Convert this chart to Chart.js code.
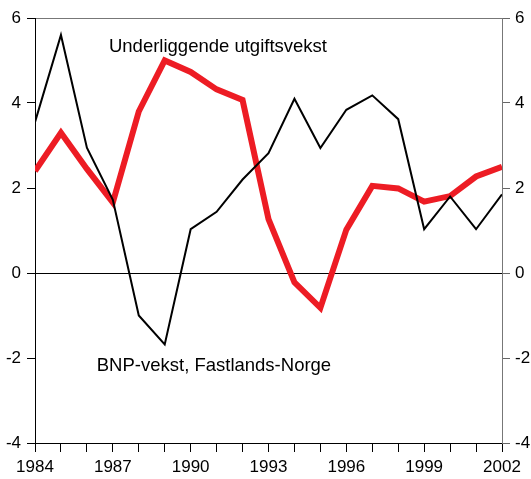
<!DOCTYPE html>
<html>
<head>
<meta charset="utf-8">
<script src="https://cdn.jsdelivr.net/npm/chart.js@4/dist/chart.umd.min.js"></script>
<style>
  html, body { margin: 0; padding: 0; background: #fff; }
  #wrap { width: 531px; height: 479px; }
</style>
</head>
<body>
<div id="wrap"><canvas id="chart" width="531" height="479"></canvas></div>
<script>
// --- data ---
const years = [1984, 1985, 1986, 1987, 1988, 1989, 1990, 1991, 1992, 1993, 1994, 1995, 1996, 1997, 1998, 1999, 2000, 2001, 2002];
const bnpVekst = [3.55, 5.6, 2.95, 1.72, -1.0, -1.68, 1.03, 1.44, 2.2, 2.82, 4.1, 2.94, 3.84, 4.18, 3.62, 1.03, 1.8, 1.03, 1.85];
const utgiftsvekst = [2.4, 3.3, 2.45, 1.66, 3.8, 5.0, 4.73, 4.32, 4.07, 1.27, -0.22, -0.82, 1.02, 2.05, 1.99, 1.68, 1.81, 2.27, 2.5];
const yTicks = [-4, -2, 0, 2, 4, 6];
const xLabelYears = [1984, 1987, 1990, 1993, 1996, 1999, 2002];

const seriesNames = ['BNP-vekst, Fastlands-Norge', 'Underliggende utgiftsvekst'];
const FONT = '"Liberation Sans", Arial, sans-serif';

// text labels placed inside the plot
const annotations = {
    id: 'annotations',
    afterDatasetsDraw(chart) {
        const ctx = chart.ctx;
        const xs = chart.scales.x, ys = chart.scales.y;
        ctx.save();
        ctx.fillStyle = '#000';
        ctx.font = '18.5px ' + FONT;
        ctx.textBaseline = 'alphabetic';
        ctx.textAlign = 'left';
        ctx.fillText(seriesNames[1], xs.getPixelForValue(1986.85), ys.getPixelForValue(5.2));
        ctx.fillText(seriesNames[0], xs.getPixelForValue(1986.38), ys.getPixelForValue(-2.3));
        ctx.restore();
    }
};

function fixWidth(w) { return scale => { scale.width = w; }; }
function fixHeight(h) { return scale => { scale.height = h; }; }

new Chart(document.getElementById('chart'), {
    type: 'line',
    data: {
        datasets: [
            {
                label: seriesNames[0],
                data: years.map((y, i) => ({ x: y, y: bnpVekst[i] })),
                borderColor: '#000',
                borderWidth: 2,
                pointRadius: 0,
                tension: 0,
                clip: 0
            },
            {
                label: seriesNames[1],
                data: years.map((y, i) => ({ x: y, y: utgiftsvekst[i] })),
                borderColor: '#ed1c24',
                borderWidth: 6,
                pointRadius: 0,
                tension: 0,
                clip: 0
            }
        ]
    },
    options: {
        responsive: false,
        animation: false,
        layout: { padding: { top: 18, left: 0, right: 0, bottom: 0 } },
        plugins: { legend: { display: false }, tooltip: { enabled: false } },
        scales: {
            x: {
                type: 'linear',
                position: 'bottom',
                min: 1984, max: 2002,
                afterFit: fixHeight(36),
                afterBuildTicks: s => { s.ticks = years.map(v => ({ value: v })); },
                ticks: {
                    autoSkip: false, maxRotation: 0,
                    color: '#000', padding: 5,
                    font: { family: FONT, size: 17 },
                    callback: v => xLabelYears.includes(v) ? String(v) : ''
                },
                grid: { drawOnChartArea: false, tickLength: 9, tickColor: '#000', tickWidth: 1 },
                border: { display: true, color: '#000', width: 1 }
            },
            xTop: {
                type: 'linear',
                position: 'top',
                min: 1984, max: 2002,
                afterFit: fixHeight(0),
                ticks: { display: false },
                grid: { drawOnChartArea: false, drawTicks: false },
                border: { display: true, color: '#777', width: 1 }
            },
            y: {
                position: 'left',
                min: -4, max: 6,
                afterFit: fixWidth(35),
                afterBuildTicks: s => { s.ticks = yTicks.map(v => ({ value: v })); },
                ticks: { color: '#000', padding: 6, font: { family: FONT, size: 17 } },
                grid: {
                    color: c => c.tick && c.tick.value === 0 ? '#000' : 'rgba(0,0,0,0)',
                    tickColor: '#000', tickLength: 8, lineWidth: 1
                },
                border: { display: true, color: '#000', width: 1 }
            },
            y2: {
                position: 'right',
                min: -4, max: 6,
                afterFit: fixWidth(29),
                afterBuildTicks: s => { s.ticks = yTicks.map(v => ({ value: v })); },
                ticks: { color: '#000', padding: 5, font: { family: FONT, size: 17 } },
                grid: { drawOnChartArea: false, tickColor: '#666', tickLength: 8 },
                border: { display: true, color: '#777', width: 1 }
            }
        }
    },
    plugins: [annotations]
});
</script>
</body>
</html>
